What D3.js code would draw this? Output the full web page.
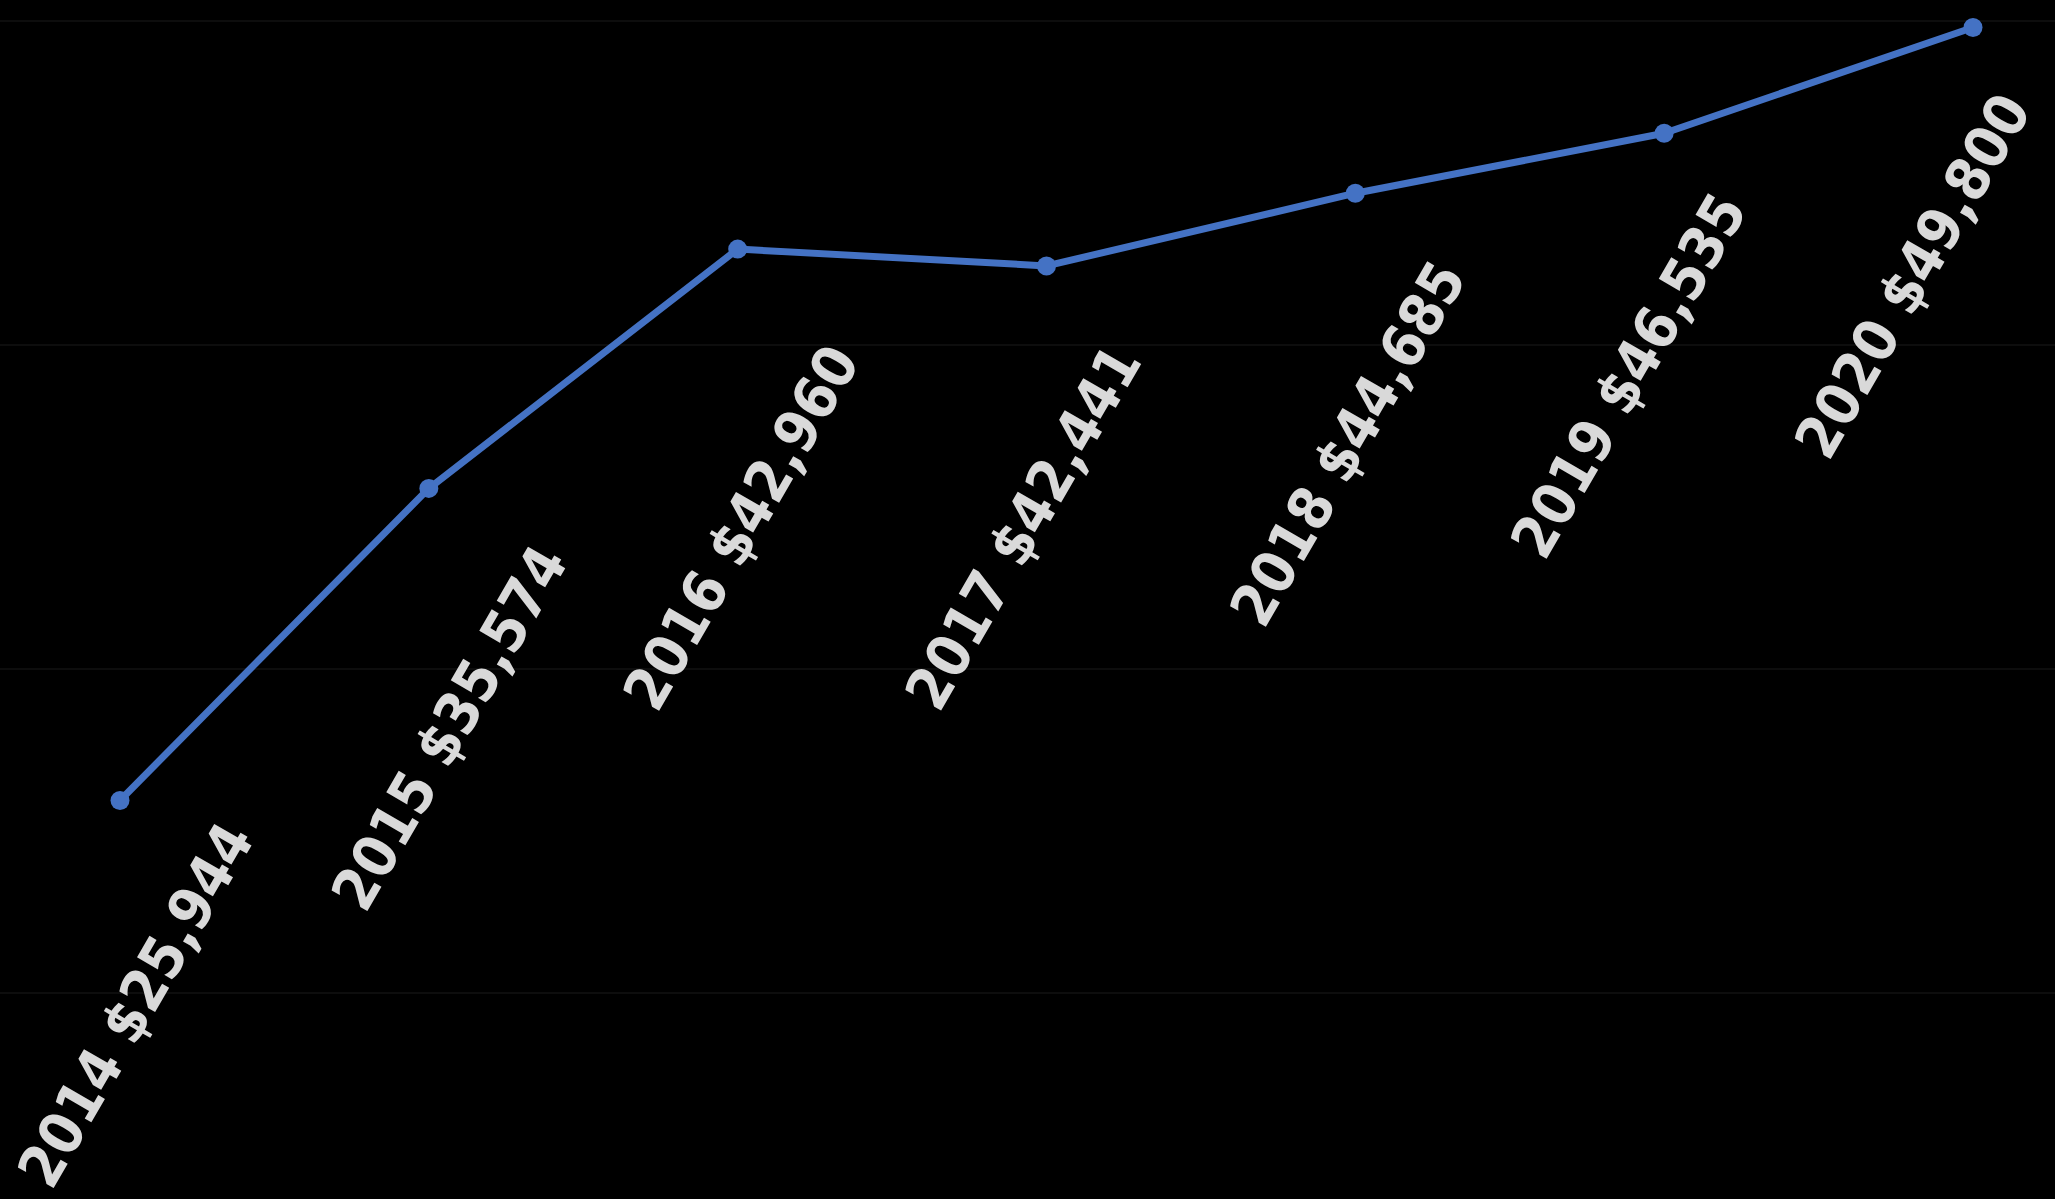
<!DOCTYPE html>
<html>
<head>
<meta charset="utf-8">
<script src="https://cdn.jsdelivr.net/npm/d3@7"></script>
<style>
  html, body { margin: 0; padding: 0; background: #000; overflow: hidden; }
  svg { display: block; }
</style>
</head>
<body>
<svg id="chart" width="2055" height="1199"></svg>
<script>
// ---- data ----
const years = ["2014", "2015", "2016", "2017", "2018", "2019", "2020"];
const values = [25944, 35574, 42960, 42441, 44685, 46535, 49800];
const gridTicks = [10000, 20000, 30000, 40000, 50000];
// ---- layout: per-label offsets from each point (label centre) ----
const labelOffsets = [[15, 204], [20, 239], [3, 278], [-24, 261], [-8, 250], [-36, 242], [-61, 248]];

const W = 2055, H = 1199;
const svg = d3.select("#chart");
svg.append("rect").attr("width", W).attr("height", H).attr("fill", "#000");

const x = d3.scalePoint().domain(years).range([120, 1973]);
const y = d3.scaleLinear().domain([20000, 50000]).range([993, 21]);

const data = years.map((yr, i) => ({ year: yr, value: values[i], off: labelOffsets[i] }));

// gridlines
svg.append("g")
  .selectAll("line")
  .data(gridTicks)
  .join("line")
  .attr("x1", 0).attr("x2", W)
  .attr("y1", d => y(d)).attr("y2", d => y(d))
  .attr("stroke", "#121212")
  .attr("stroke-width", 1.5);

// line
const line = d3.line().x(d => x(d.year)).y(d => y(d.value));
svg.append("path")
  .datum(data)
  .attr("d", line)
  .attr("fill", "none")
  .attr("stroke", "#4472c4")
  .attr("stroke-width", 7)
  .attr("stroke-linejoin", "round")
  .attr("stroke-linecap", "round");

// markers
svg.append("g")
  .selectAll("circle")
  .data(data)
  .join("circle")
  .attr("cx", d => x(d.year))
  .attr("cy", d => y(d.value))
  .attr("r", 9.5)
  .attr("fill", "#4472c4");

// labels
const fmt = d3.format("$,");
svg.append("g")
  .selectAll("text")
  .data(data)
  .join("text")
  .attr("transform", d => `translate(${x(d.year) + d.off[0]},${y(d.value) + d.off[1]}) rotate(-60)`)
  .attr("text-anchor", "middle")
  .attr("dy", "0.36em")
  .attr("fill", "#d9d9d9")
  .attr("font-family", "'DejaVu Sans Condensed', 'DejaVu Sans', sans-serif")
  .attr("font-weight", "bold")
  .attr("font-size", 59)
  .text(d => `${d.year} ${fmt(d.value)}`);
</script>
</body>
</html>
